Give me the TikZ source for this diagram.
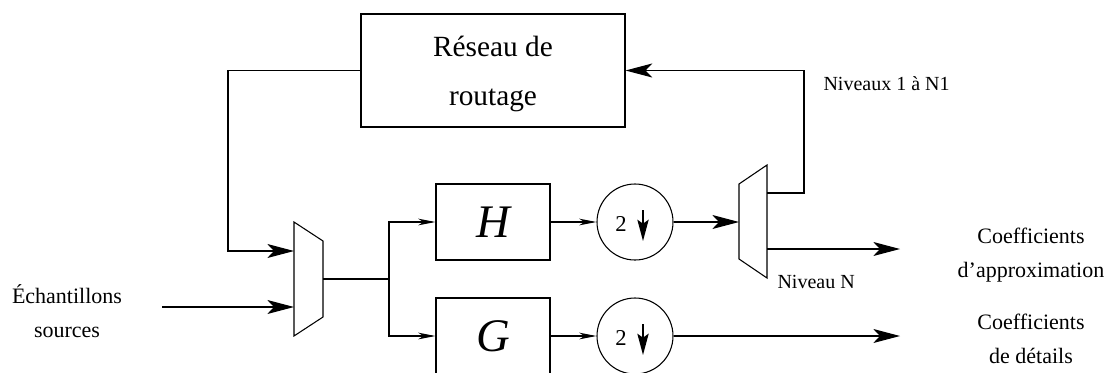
\documentclass[tikz,border=0pt]{standalone}
\usepackage{fontspec}
\setmainfont{Liberation Serif}
\usetikzlibrary{arrows.meta, positioning, calc}

\begin{document}
\begin{tikzpicture}[
  x=0.75pt, y=-0.75pt,
  line width=0.8pt,
  routblock/.style={rectangle, draw, minimum width=198pt, minimum height=84.75pt,
                    align=center, text depth=-2pt, font=\fontsize{22}{37}\selectfont},
  filtblock/.style={rectangle, draw, minimum width=85.5pt, minimum height=57pt,
                    font=\fontsize{35}{40}\selectfont\itshape},
  dsblock/.style={circle, draw, minimum size=57pt, inner sep=0pt},
  dslbl/.style={font=\fontsize{17}{20}\selectfont, inner sep=0pt},
  mux/.style={draw, fill=white},
  arrow/.style={-{Stealth[length=13pt, width=5pt, inset=4pt]}},
  bigarrow/.style={-{Stealth[length=20pt, width=10.5pt, inset=5pt]}},
  dsarrow/.style={-{Stealth[length=16pt, width=8.5pt, inset=3pt]}, line width=1.1pt},
  iolbl/.style={align=center, font=\fontsize{16.5}{25}\selectfont},
  nivlbl/.style={font=\fontsize{15}{17}\selectfont, inner sep=0pt}
]
\useasboundingbox (0,0) rectangle (1107,372);

% Routing block (top)
\node[routblock] (reseau) at (493,70.5) {Réseau de\\routage};

% Filters H and G
\node[filtblock] (H) at (493,222) {H};
\node[filtblock] (G) at (493,336) {G};

% Decimators
\node[dsblock] (dsH) at (635,222) {};
\node[dsblock] (dsG) at (635,336) {};
\foreach \ds in {dsH, dsG} {
  \node[dslbl] at ($(\ds.center)+(-14,2)$) {2};
  \draw[dsarrow] ($(\ds.center)+(8,-12)$) -- ($(\ds.center)+(8,19)$);
}

% Input multiplexer
\draw[mux] (294,222) -- (323,241) -- (323,317) -- (294,336) -- cycle;
\coordinate (muxin1) at (294,251);
\coordinate (muxin2) at (294,307);
\coordinate (muxout) at (323,279);
\coordinate (split)  at (389,279);

% Output demultiplexer
\draw[mux] (739,184) -- (767,165) -- (767,278) -- (739,259) -- cycle;
\coordinate (demuxin)   at (739,222);
\coordinate (demuxout1) at (767,193);
\coordinate (demuxout2) at (767,249);

% Free ends and corners
\coordinate (srcin)     at (162,307);
\coordinate (fbleft)    at (228,251);
\coordinate (fbright)   at (804,193);
\coordinate (approxout) at (900,249);
\coordinate (detout)    at (900,336);

% Labels
\node[iolbl] (src)    at (67,311)   {Échantillons\\sources};
\node[iolbl] (approx) at (1031,255) {Coefficients\\d’approximation};
\node[iolbl] (det)    at (1031,339) {Coefficients\\de détails};
\node[nivlbl, anchor=base west] (niv1) at (823,90)  {Niveaux 1 à N1};
\node[nivlbl, anchor=base west] (nivN) at (777,288) {Niveau N};

% --- Arrows ---
% Source into multiplexer
\draw[bigarrow] (srcin) -- (muxin2);

% Feedback from routing block into multiplexer
\draw[bigarrow] (reseau.west) -| (fbleft) -- (muxin1);

% Multiplexer to both filters
\draw (muxout) -- (split);
\draw[arrow] (split) |- (H.west);
\draw[arrow] (split) |- (G.west);

% Filters to decimators
\draw[arrow] (H.east) -- (dsH.west);
\draw[arrow] (G.east) -- (dsG.west);

% Decimators onwards
\draw[bigarrow] (dsH.east) -- (demuxin);
\draw[bigarrow] (dsG.east) -- (detout);

% Demultiplexer outputs
\draw[bigarrow] (demuxout1) -- (fbright) |- (reseau.east);
\draw[bigarrow] (demuxout2) -- (approxout);

\end{tikzpicture}
\end{document}
